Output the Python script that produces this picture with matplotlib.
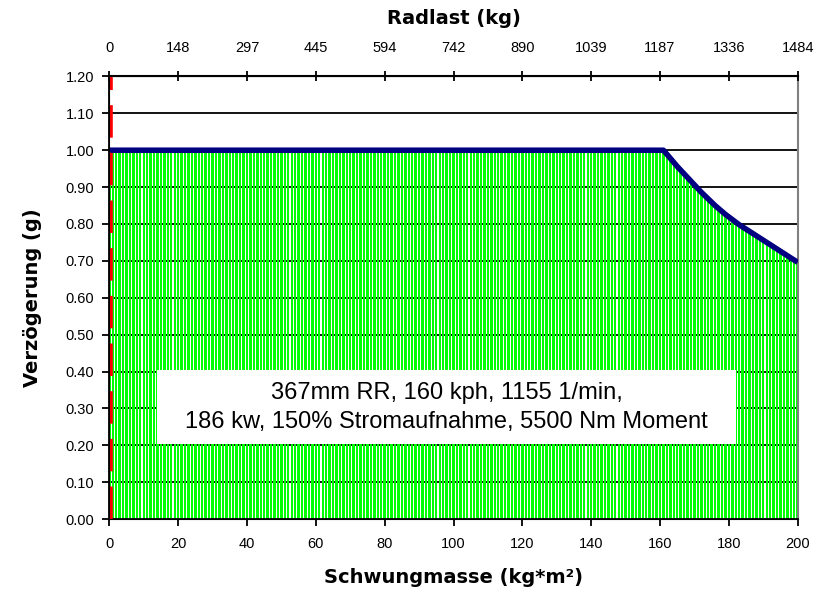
import matplotlib.pyplot as plt
from matplotlib.patches import Rectangle

# Schwungmasse (kg*m²) 0..200, one bar per unit
mass = list(range(0, 201))

# Verzögerung (g): flat at 1.0 for 0..160, then falling off for 161..200
decel_flat = [1.0] * 161
decel_drop = [1.000, 0.989, 0.978, 0.967, 0.956, 0.946, 0.936, 0.926, 0.916, 0.906,
              0.896, 0.886, 0.877, 0.868, 0.859, 0.850, 0.842, 0.834, 0.826, 0.819,
              0.812, 0.805, 0.798, 0.792, 0.786, 0.780, 0.774, 0.768, 0.762, 0.756,
              0.750, 0.744, 0.738, 0.732, 0.726, 0.720, 0.714, 0.708, 0.702, 0.696]
decel = decel_flat + decel_drop

x_ticks = [0, 20, 40, 60, 80, 100, 120, 140, 160, 180, 200]
radlast_labels = ['0', '148', '297', '445', '594', '742', '890', '1039', '1187', '1336', '1484']
y_ticks = [0.0, 0.1, 0.2, 0.3, 0.4, 0.5, 0.6, 0.7, 0.8, 0.9, 1.0, 1.1, 1.2]

info_text = "367mm RR, 160 kph, 1155 1/min,\n186 kw, 150% Stromaufnahme, 5500 Nm Moment"

plt.rcParams['font.family'] = ['Liberation Sans', 'DejaVu Sans']

fig = plt.figure(figsize=(8.25, 5.91), dpi=100)
ax = fig.add_axes([0.1325, 0.1218, 0.8344, 0.7488])

# horizontal grid lines behind the bars
for yv in y_ticks[1:]:
    ax.axhline(yv, color='black', linewidth=1.3, zorder=1)

ax.bar(mass, decel, width=0.7, color='#00ff00', edgecolor='none', zorder=2)
ax.plot(mass, decel, color='#000080', linewidth=4.0, solid_capstyle='butt', zorder=5)

# red dashed marker at x=0
ax.axvline(0.4, color='red', linewidth=2.6, dashes=(9, 4.2), zorder=6)

# white info box
ax.add_patch(Rectangle((13.9, 0.203), 168.3, 0.201, facecolor='white',
                       edgecolor='none', zorder=7))
ax.text(98, 0.302, info_text, ha='center', va='center', fontsize=17,
        linespacing=1.4, zorder=8)

ax.set_xlim(0, 200)
ax.set_ylim(0, 1.2)
ax.set_xticks(x_ticks)
ax.set_yticks(y_ticks)
ax.set_yticklabels(['%.2f' % v for v in y_ticks])
ax.tick_params(axis='both', labelsize=10.5, direction='out', length=5, width=1.3)
ax.tick_params(axis='x', pad=8)
ax.tick_params(axis='y', pad=6)

ax.set_xlabel('Schwungmasse (kg*m²)', fontsize=14, fontweight='bold',
              family='DejaVu Sans', labelpad=12)
ax.set_ylabel('Verzögerung (g)', fontsize=14, fontweight='bold',
              family='DejaVu Sans', labelpad=17)

ax.spines['bottom'].set_linewidth(1.3)
ax.spines['left'].set_linewidth(1.3)
ax.spines['right'].set_color('#808080')
ax.spines['right'].set_linewidth(1.5)

# top axis: Radlast
ax2 = ax.twiny()
ax2.set_xlim(0, 200)
ax2.set_xticks(x_ticks)
ax2.set_xticklabels(radlast_labels)
ax2.tick_params(axis='x', labelsize=10.5, direction='inout', length=7, width=1.3, pad=12)
ax2.spines['top'].set_linewidth(1.5)
ax2.spines['right'].set_visible(False)
ax2.set_xlabel('Radlast (kg)', fontsize=14, fontweight='bold',
               family='DejaVu Sans', labelpad=12)

fig.savefig('out.png', dpi=100)
